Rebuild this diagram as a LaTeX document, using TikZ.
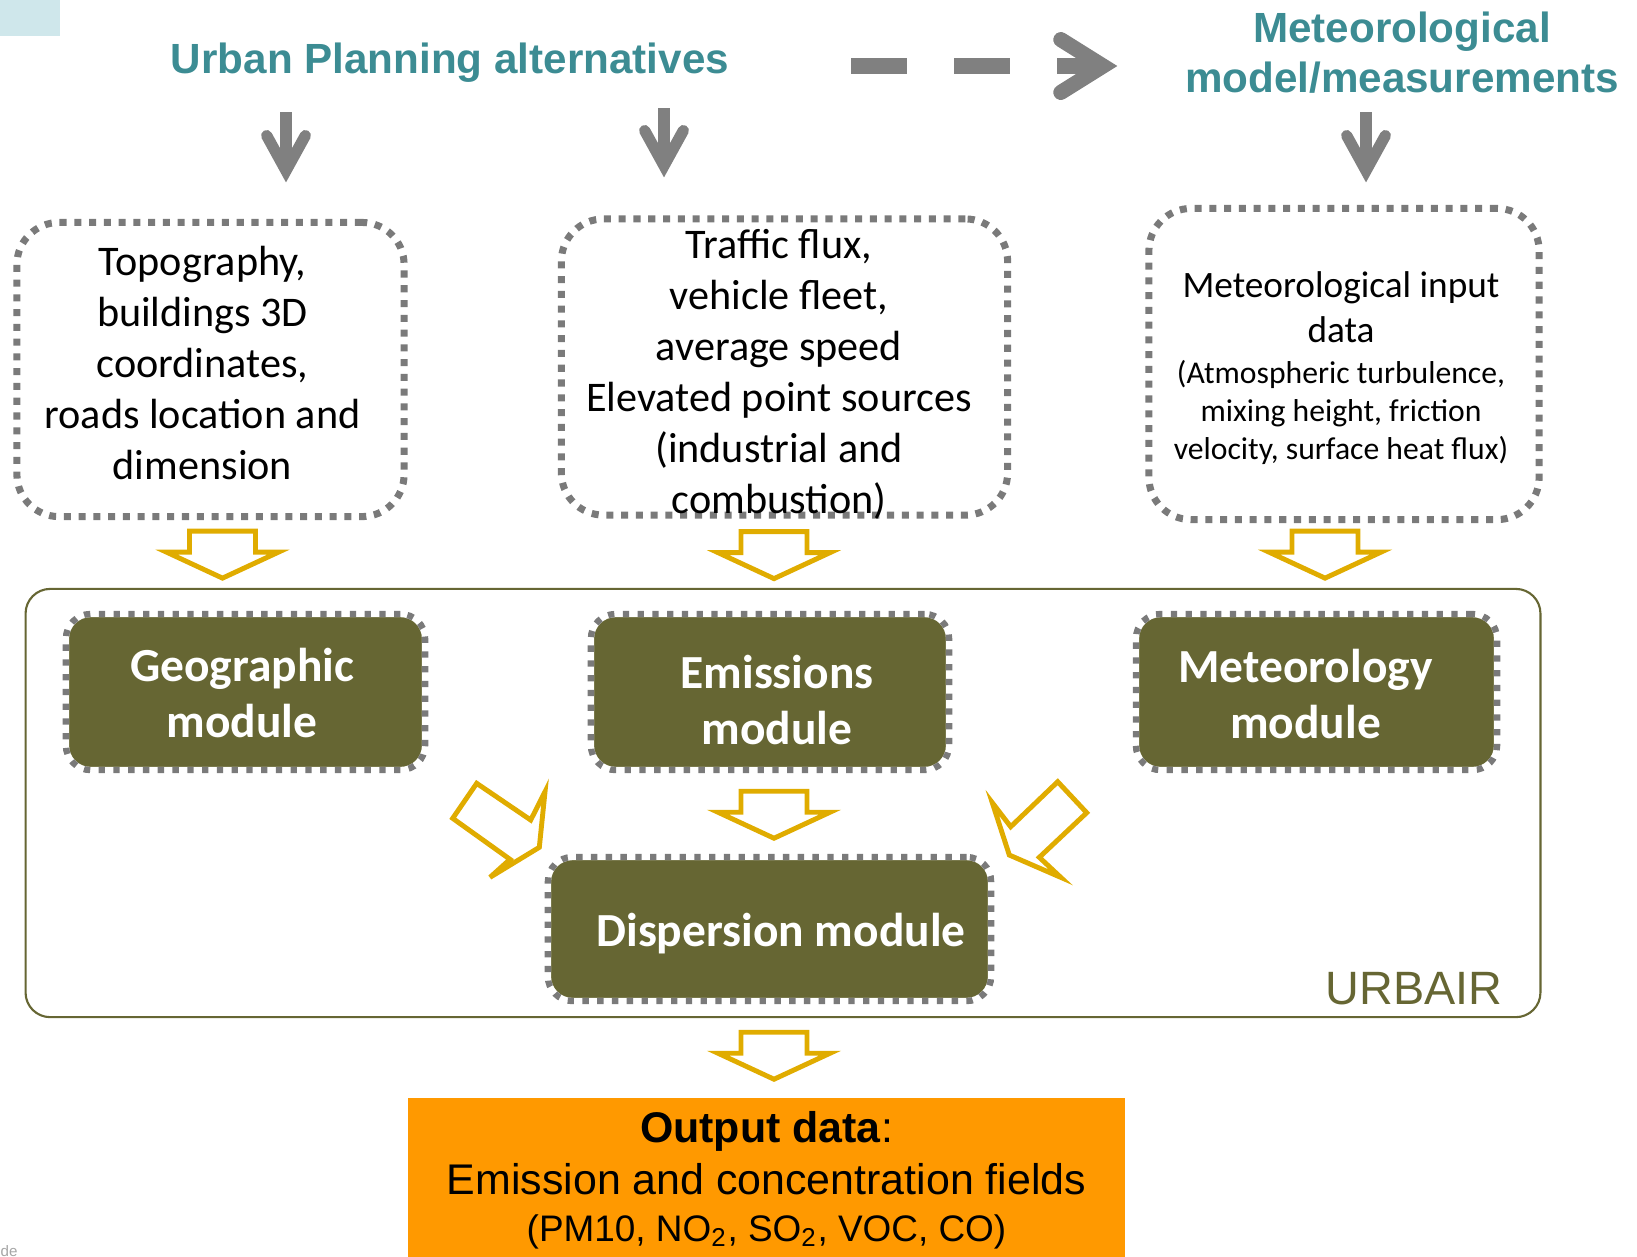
\documentclass[tikz,border=0pt]{standalone}
\usepackage{fontspec}
\setmainfont{Carlito}
\newfontfamily\arialfont{Liberation Sans}
\usetikzlibrary{arrows.meta,calc}
\definecolor{titleteal}{HTML}{3C8C93}
\definecolor{moduleolive}{HTML}{666633}
\definecolor{dotgray}{HTML}{7A7A7A}
\definecolor{arrowgray}{HTML}{808080}
\definecolor{blockyellow}{HTML}{E0AC00}
\definecolor{outorange}{HTML}{FF9900}
\definecolor{tabteal}{HTML}{CFE7EB}
\tikzset{
  titletext/.style={inner sep=0pt, text=titleteal, align=center, font=\arialfont\bfseries\fontsize{12}{14.2}\selectfont},
  inbox/.style={draw=dotgray, line width=2pt, dash pattern=on 2pt off 2.2pt, rounded corners=12pt},
  intext/.style={inner sep=0pt, align=center, font=\fontsize{12}{14.5}\selectfont},
  module/.style={fill=moduleolive, draw=white, line width=1.8pt, rounded corners=7pt,
    postaction={draw=dotgray, dash pattern=on 1.8pt off 2.4pt}},
  moduletext/.style={inner sep=0pt, text=white, align=center, font=\bfseries\fontsize{13.5}{16.2}\selectfont},
  grayarrow/.style={draw=arrowgray, line width=3.2pt, -{Straight Barb[length=10pt,width=11pt,line cap=round,line join=miter]}},
  blockarrow/.style={draw=blockyellow, line width=1.4pt, line join=miter},
  downblock/.pic={\draw[blockarrow] (-33,0) -- (33,0) -- (33,21) -- (56,21) -- (0,47) -- (-56,21) -- (-33,21) -- cycle;}
}
\begin{document}
\begin{tikzpicture}[x=0.01cm, y=-0.01cm]
    \useasboundingbox (0,0) rectangle (1637,1256);
    \fill[tabteal] (0,0) rectangle (60,36);
    \node[titletext] (urban) at (450,63) {Urban Planning alternatives};
    \node[titletext] (meteo) at (1402,53) {Meteorological\\model/measurements};
    \coordinate (dstart) at (851,66);
    \draw[arrowgray, line width=4.3pt, dash pattern=on 0.56cm off 0.47cm, shorten >=0.67cm,
        -{Straight Barb[length=12pt,width=15pt,line cap=round,line join=miter]}] (dstart) -- (dstart -| meteo.west);
    \node[inbox, minimum width=3.87cm, minimum height=2.94cm] (topo) at (210.5,369.5) {};
    \node[inbox, minimum width=4.46cm, minimum height=2.96cm] (traffic) at (784.5,367) {};
    \node[inbox, minimum width=3.90cm, minimum height=3.11cm] (metin) at (1344,364) {};
    \node[intext] (topotxt) at (202.5,363) {Topography,\\buildings 3D\\coordinates,\\roads location and\\dimension};
    \node[intext] (traffictxt) at (779,374) {Traffic flux,\\vehicle fleet,\\average speed\\Elevated point sources\\(industrial and\\combustion)};
    \node[intext, font=\fontsize{10.6}{10.8}\selectfont] (metintxt) at (1341,368) {Meteorological input\\[2pt]data\\[1.1pt]
        \fontsize{9}{10.8}\selectfont(Atmospheric turbulence,\\\fontsize{9}{10.8}\selectfont mixing height, friction\\\fontsize{9}{10.8}\selectfont velocity, surface heat flux)};
    \coordinate (u1) at (286,112);
    \coordinate (u2) at (664,108);
    \coordinate (m1) at (1366,112);
    \draw[grayarrow, shorten >=0.365cm] (u1) -- (u1 |- topo.north);
    \draw[grayarrow, shorten >=0.38cm] (u2) -- (u2 |- traffic.north);
    \draw[grayarrow, shorten >=0.225cm] (m1) -- (m1 |- metin.north);
    \node[draw=moduleolive, line width=0.6pt, rounded corners=7pt, minimum width=15.14cm, minimum height=4.28cm] (urbair) at (783,803) {};
    \node[anchor=east, inner sep=0pt, text=moduleolive, font=\arialfont\fontsize{13.3}{16}\selectfont] (urbairlbl) at (1503,989) {URBAIR};
    \node[module, minimum width=3.59cm, minimum height=1.56cm] (geo) at (245.5,692) {};
    \node[module, minimum width=3.58cm, minimum height=1.56cm] (emis) at (770,692) {};
    \node[module, minimum width=3.61cm, minimum height=1.56cm] (meteomod) at (1316.5,692) {};
    \node[module, minimum width=4.43cm, minimum height=1.44cm] (disp) at (769.5,929) {};
    \node[moduletext] (geotxt) at (242,693) {Geographic\\module};
    \node[moduletext] (emistxt) at (777,700) {Emissions\\module};
    \node[moduletext] (meteomodtxt) at (1305.5,694) {Meteorology\\module};
    \node[moduletext] (disptxt) at (781,934) {Dispersion module};
    \pic at ($(topo.south)+(12,11)$) {downblock};
    \pic at ($(traffic.south)+(-10.5,13)$) {downblock};
    \pic at ($(metin.south)+(-19,8)$) {downblock};
    \pic at ($(emis.south)+(4,18)$) {downblock};
    \pic at ($(disp.south)+(4.5,28)$) {downblock};
    \draw[blockarrow] (476.7,783.3) -- (530.7,820) -- (545,791.7) -- (539.3,847.3) -- (490,877.3) -- (510,859.3) -- (452.7,818.3) -- cycle;
    \draw[blockarrow] (1057.7,781.7) -- (1010.7,826.7) -- (992.3,802.7) -- (1009.3,855) -- (1060.7,877.3) -- (1039.3,857.3) -- (1086.7,812.7) -- cycle;
    \node[fill=outorange, minimum width=7.17cm, minimum height=1.64cm, inner sep=0pt, align=center,
        font=\arialfont\fontsize{12.2}{14.8}\selectfont] (output) at (766.5,1180)
        {\textbf{Output data}:\\Emission and concentration fields\\[-1.5pt]\fontsize{10.5}{12}\selectfont(PM10, NO\textsubscript{2}, SO\textsubscript{2}, VOC, CO)};
    \node[anchor=base west, inner sep=0pt, text=gray!70, font=\arialfont\fontsize{4.3}{5}\selectfont] (slide) at (0,1256) {de};
\end{tikzpicture}
\end{document}
